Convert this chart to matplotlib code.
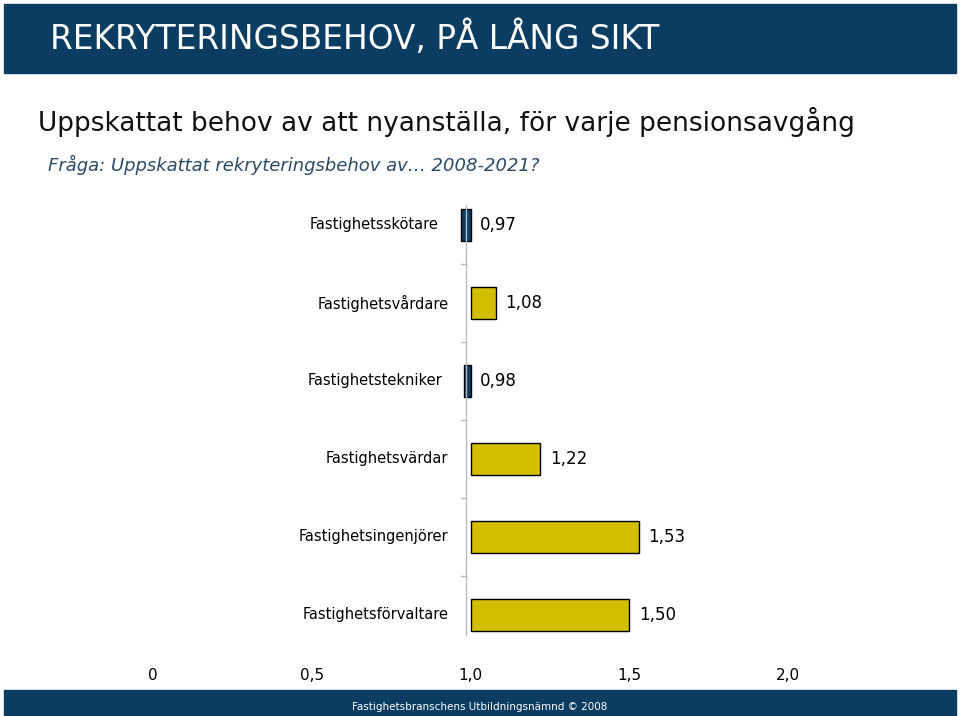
import matplotlib.pyplot as plt
from matplotlib.patches import Rectangle

categories = ["Fastighetsskötare", "Fastighetsvårdare", "Fastighetstekniker",
              "Fastighetsvärdar", "Fastighetsingenjörer", "Fastighetsförvaltare"]
values = [0.97, 1.08, 0.98, 1.22, 1.53, 1.50]
value_labels = ["0,97", "1,08", "0,98", "1,22", "1,53", "1,50"]
xticks = [0, 0.5, 1.0, 1.5, 2.0]
xtick_labels = ["0", "0,5", "1,0", "1,5", "2,0"]

navy = "#0b3d63"
gold = "#d4be00"

fig = plt.figure(figsize=(9.6, 7.16), dpi=100)
fig.patches.append(Rectangle((4/960, 1-73/716), 952/960, 69/716, transform=fig.transFigure,
                             color=navy, zorder=0))
fig.patches.append(Rectangle((4/960, 0), 952/960, 26/716, transform=fig.transFigure,
                             color=navy, zorder=0))
fig.text(50/960, 1-38/716, "REKRYTERINGSBEHOV, PÅ LÅNG SIKT", color="white",
         fontsize=23.6, va="center")
fig.text(38/960, 1-122/716, "Uppskattat behov av att nyanställa, för varje pensionsavgång",
         color="#111111", fontsize=19, va="center")
fig.text(48/960, 1-165/716, "Fråga: Uppskattat rekryteringsbehov av… 2008-2021?",
         color="#2b4a66", fontsize=13, style="italic", va="center")
fig.text(480/960, 9/716, "Fastighetsbranschens Utbildningsnämnd © 2008", color="white",
         fontsize=7.5, ha="center", va="center")

ax = fig.add_axes([153/960, 1-654/716, 635/960, 468/716])
base = 1.0
for i, v in enumerate(values):
    c = navy if v < base else gold
    ax.barh(i, v - base, left=base, height=0.41, color=c, edgecolor="black", linewidth=1)
    left = min(v, base)
    right = max(v, base)
    ax.text(left - 0.07, i, categories[i], ha="right", va="center", fontsize=10.5)
    ax.text(right + 0.03, i, value_labels[i], ha="left", va="center", fontsize=12)

ax.set_ylim(len(categories) - 0.5, -0.5)
ax.set_xlim(0, 2.0)
ax.axvline(0.985, ymin=0.04, ymax=0.96, color="#bbbbbb", lw=1)
for b in [0.5, 1.5, 2.5, 3.5, 4.5]:
    ax.plot([0.97, 0.985], [b, b], color="#bbbbbb", lw=1)
ax.set_xticks(xticks)
ax.set_xticklabels(xtick_labels, fontsize=11)
ax.set_yticks([])
for s in ax.spines.values():
    s.set_visible(False)
ax.tick_params(axis="x", length=0, pad=10)

fig.savefig("out.png", dpi=100)
